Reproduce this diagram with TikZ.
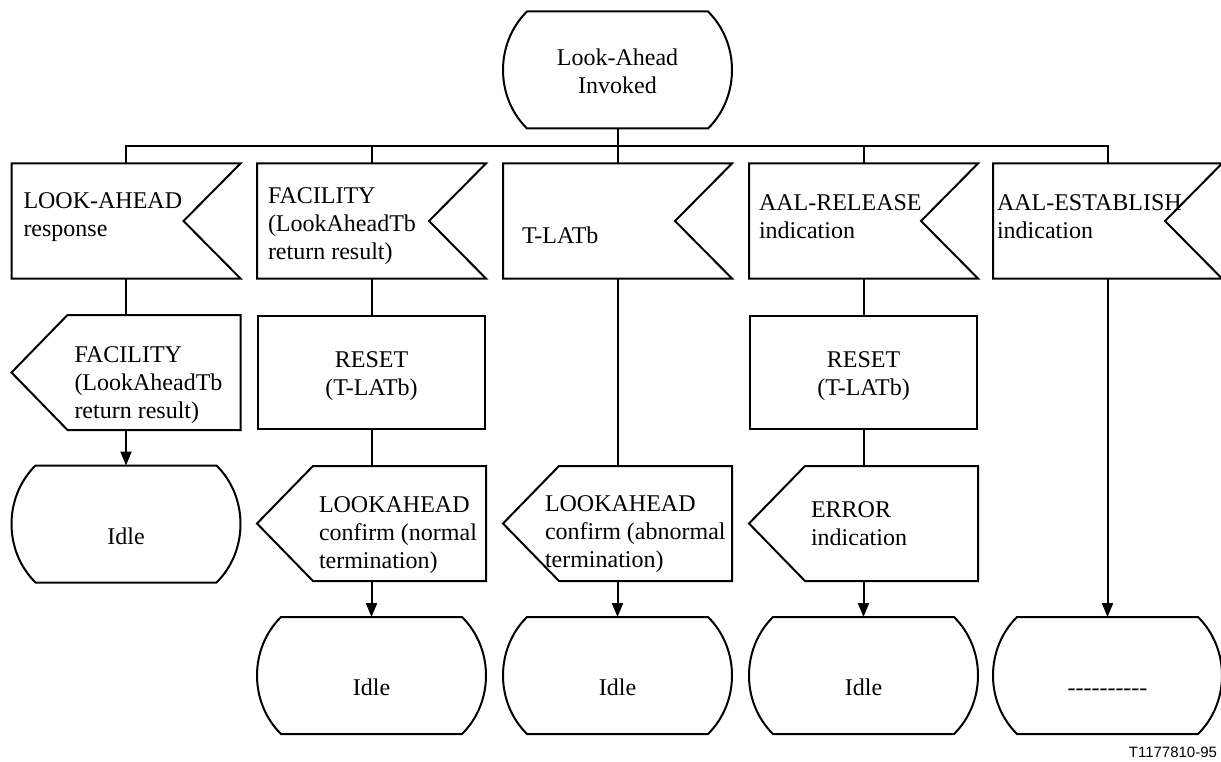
\documentclass[tikz,border=0pt]{standalone}
\usepackage{fontspec}
\setmainfont{Liberation Serif}
\newfontfamily\figsans{Liberation Sans}
\usetikzlibrary{arrows.meta}

% SDL symbol outlines drawn around empty placeholder nodes
\newcommand{\drawterminal}[1]{%
  \draw ([xshift=24pt]#1.north west) -- ([xshift=-24pt]#1.north east)
    .. controls +(32,31.6) and +(32,-31.6) .. ([xshift=-24pt]#1.south east)
    -- ([xshift=24pt]#1.south west)
    .. controls +(-32,-31.6) and +(-32,31.6) .. ([xshift=24pt]#1.north west)
    -- cycle;}
\newcommand{\drawinput}[1]{%
  \draw (#1.north west) -- (#1.north east) -- ([xshift=-57pt]#1.east)
    -- (#1.south east) -- (#1.south west) -- cycle;}
\newcommand{\drawoutput}[1]{%
  \draw ([xshift=56pt]#1.north west) -- (#1.north east) -- (#1.south east)
    -- ([xshift=56pt]#1.south west) -- (#1.west) -- cycle;}
\newcommand{\hy}{\hbox{-}}

\begin{document}
\begin{tikzpicture}[x=1pt, y=-1pt,
  line width=2pt,
  every node/.style={inner sep=0pt, font=\fontsize{24}{28}\selectfont},
  frame/.style={rectangle, minimum width=227pt, minimum height=113pt},
  termframe/.style={rectangle, minimum width=227pt, minimum height=115pt},
  rectbox/.style={frame, draw, line width=2pt},
  txt/.style={anchor=base west, align=left},
  ctxt/.style={anchor=base, align=center},
  flow/.style={-{Triangle[length=14pt, width=11pt]}},
]
\useasboundingbox (0,0) rectangle (1221,762);

% start state
\node[termframe] (top) at (617.5,70) {};

% input signals
\node[frame] (f1) at (126,221) {};
\node[frame] (f2) at (371.5,221) {};
\node[frame] (f3) at (617.5,221) {};
\node[frame] (f4) at (863.5,221) {};
\node[frame] (f5) at (1107.5,221) {};

% second row
\node[frame] (s1) at (126,372.5) {};
\node[rectbox] (r2) at (371.5,372.5) {};
\node[rectbox] (r4) at (863.5,372.5) {};

% third row
\node[termframe] (i1) at (126,524) {};
\node[frame] (s2) at (371.5,523.5) {};
\node[frame] (s3) at (617.5,523.5) {};
\node[frame] (s4) at (863.5,523.5) {};

% next states
\node[termframe] (i2) at (371.5,675.5) {};
\node[termframe] (i3) at (617.5,675.5) {};
\node[termframe] (i4) at (863.5,675.5) {};
\node[termframe] (i5) at (1107.5,675.5) {};

% outlines
\foreach \n in {top,i1,i2,i3,i4,i5} {\drawterminal{\n}}
\foreach \n in {f1,f2,f3,f4,f5} {\drawinput{\n}}
\foreach \n in {s1,s2,s3,s4} {\drawoutput{\n}}

% labels (base anchor sits on the last line)
\node[ctxt] (topt) at ([shift={(0,82)}]top.north) {Look-Ahead\\Invoked};
\node[txt] (f1t) at ([shift={(11,73)}]f1.north west) {LOOK-AHEAD\\response};
\node[txt] (f2t) at ([shift={(10,96)}]f2.north west) {FACILITY\\(LookAheadTb\\return result)};
\node[txt] (f3t) at ([shift={(18,80)}]f3.north west) {T-LATb};
\node[txt] (f4t) at ([shift={(9,75)}]f4.north west) {AAL-RELEASE\\indication};
\node[txt] (f5t) at ([shift={(3,75)}]f5.north west) {AAL-ESTABLISH\\indication};
\node[txt] (s1t) at ([shift={(62,103)}]s1.north west) {FACILITY\\(LookAheadTb\\return result)};
\node[ctxt] (r2t) at ([shift={(0,80)}]r2.north) {RESET\\(T-LATb)};
\node[ctxt] (r4t) at ([shift={(0,80)}]r4.north) {RESET\\(T-LATb)};
\node[txt] (s2t) at ([shift={(61,102)}]s2.north west) {LOOKAHEAD\\confirm (normal\\termination)};
\node[txt] (s3t) at ([shift={(41,101)}]s3.north west) {LOOKAHEAD\\confirm (abnormal\\termination)};
\node[txt] (s4t) at ([shift={(61,79)}]s4.north west) {ERROR\\indication};
\node[ctxt] (i1t) at ([shift={(0,79)}]i1.north) {Idle};
\node[ctxt] (i2t) at ([shift={(0,78)}]i2.north) {Idle};
\node[ctxt] (i3t) at ([shift={(0,78)}]i3.north) {Idle};
\node[ctxt] (i4t) at ([shift={(0,78)}]i4.north) {Idle};
\node[ctxt] (i5t) at ([shift={(0,78)}]i5.north) {\hy\hy\hy\hy\hy\hy\hy\hy\hy\hy};

\node[anchor=base east, font=\figsans\fontsize{15}{18}\selectfont] (code) at (1218,757) {T1177810-95};

% connectors
\coordinate (bus) at (0,146);
\draw (top.south) -- (f3.north);
\draw (f1.north) -- (f1.north |- bus) -- (f5.north |- bus) -- (f5.north);
\draw (f2.north) -- (f2.north |- bus);
\draw (f4.north) -- (f4.north |- bus);

\draw (f1.south) -- (s1.north);
\draw[flow] (s1.south) -- (i1.north);

\draw (f2.south) -- (r2.north);
\draw (r2.south) -- (s2.north);
\draw[flow] (s2.south) -- (i2.north);

\draw (f3.south) -- (s3.north);
\draw[flow] (s3.south) -- (i3.north);

\draw (f4.south) -- (r4.north);
\draw (r4.south) -- (s4.north);
\draw[flow] (s4.south) -- (i4.north);

\draw[flow] (f5.south) -- (i5.north);
\end{tikzpicture}
\end{document}
